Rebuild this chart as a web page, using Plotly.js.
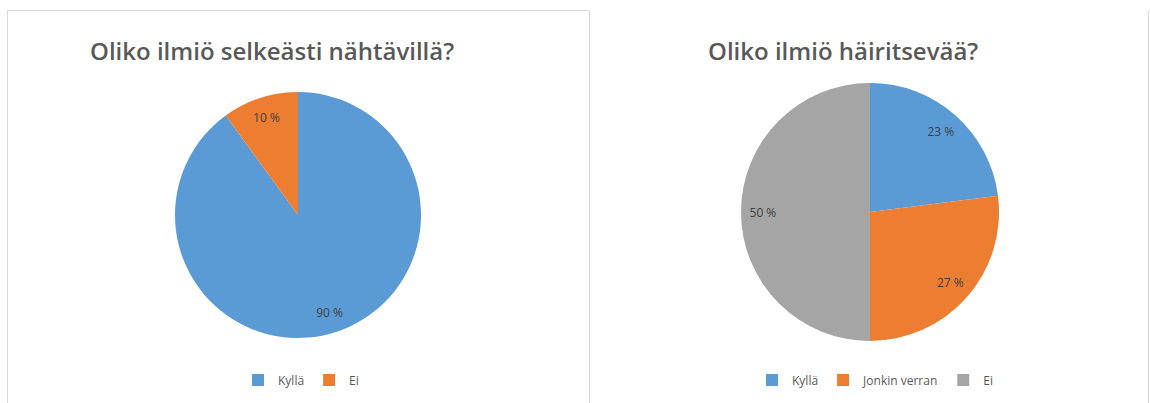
<!DOCTYPE html>
<html>
<head>
<meta charset="utf-8">
<script src="https://cdn.plot.ly/plotly-3.0.1.min.js"></script>
<style>
html,body{margin:0;padding:0;background:#fff;}
#wrap{position:relative;width:1150px;height:403px;overflow:hidden;}
#c1{position:absolute;left:0;top:0;width:590px;height:403px;}
#c2{position:absolute;left:590px;top:0;width:560px;height:403px;}
</style>
</head>
<body>
<div id="wrap"><div id="c1"></div><div id="c2"></div></div>
<script>
// Chart 1: Oliko ilmiö selkeästi nähtävillä?
const title1 = 'Oliko ilmiö selkeästi nähtävillä?';
const labels1 = ['Kyllä', 'Ei'];
const values1 = [90, 10];
const colors1 = ['#5B9BD5', '#ED7D31'];

// Chart 2: Oliko ilmiö häiritsevää?
const title2 = 'Oliko ilmiö häiritsevää?';
const labels2 = ['Kyllä', 'Jonkin verran', 'Ei'];
const values2 = [23, 27, 50];
const colors2 = ['#5B9BD5', '#ED7D31', '#A5A5A5'];

const H = 403;
const labelFont = {family: 'Open Sans, sans-serif', size: 12, color: '#404040'};
const legendFont = {family: 'Open Sans, sans-serif', size: 12, color: '#595959'};
const titleFont = {family: 'Open Sans, sans-serif', size: 24, color: '#595959', weight: 600};

function makeChart(id, W, offset, labels, values, colors, title, pieBox, titleX, legendX, borderShapes) {
  const dom = {
    x: [(pieBox.l - offset) / W, (pieBox.r - offset) / W],
    y: [1 - pieBox.b / H, 1 - pieBox.t / H]
  };
  const traces = [
    {
      type: 'pie', labels: labels, values: values, sort: false, direction: 'clockwise', rotation: 0,
      marker: {colors: colors, line: {width: 0}}, textinfo: 'none', hoverinfo: 'label+percent',
      domain: dom, showlegend: true
    },
    {
      type: 'pie', labels: labels, values: values, sort: false, direction: 'clockwise', rotation: 0,
      hole: 0.66, marker: {colors: colors.map(() => 'rgba(0,0,0,0)'), line: {width: 0}},
      texttemplate: '%{value} %', textposition: 'inside', insidetextorientation: 'horizontal',
      textfont: labelFont, hoverinfo: 'skip', domain: dom, showlegend: false
    }
  ];
  const layout = {
    width: W, height: H,
    margin: {l: 0, r: 0, t: 0, b: 0},
    paper_bgcolor: 'rgba(0,0,0,0)',
    showlegend: true,
    legend: {orientation: 'h', x: (legendX - offset) / W, y: 1 - 380 / H, xanchor: 'center', yanchor: 'middle',
             font: legendFont, traceorder: 'normal', bgcolor: 'rgba(0,0,0,0)'},
    annotations: [
      {text: title, xref: 'paper', yref: 'paper', x: (titleX - offset) / W, y: 1 - 50 / H,
       xanchor: 'center', yanchor: 'middle', showarrow: false, font: titleFont}
    ],
    shapes: borderShapes.map(s => Object.assign({xref: 'paper', yref: 'paper', line: {color: '#d9d9d9', width: 1}}, s,
      {x0: (s.x0 - offset) / W, x1: (s.x1 - offset) / W}))
  };
  return Plotly.newPlot(id, traces, layout, {displayModeBar: false, staticPlot: true});
}

makeChart('c1', 590, 0, labels1, values1, colors1, title1,
  {l: 175, r: 421, t: 92, b: 338}, 272, 301,
  [{type: 'rect', x0: 7.5, x1: 589.5, y0: -0.05, y1: 1 - 10.5 / H}]);

makeChart('c2', 560, 590, labels2, values2, colors2, title2,
  {l: 741, r: 999, t: 83, b: 341}, 843, 875,
  [{type: 'line', x0: 1148.5, x1: 1148.5, y0: -0.05, y1: 1 - 10.5 / H}]);
</script>
</body>
</html>
